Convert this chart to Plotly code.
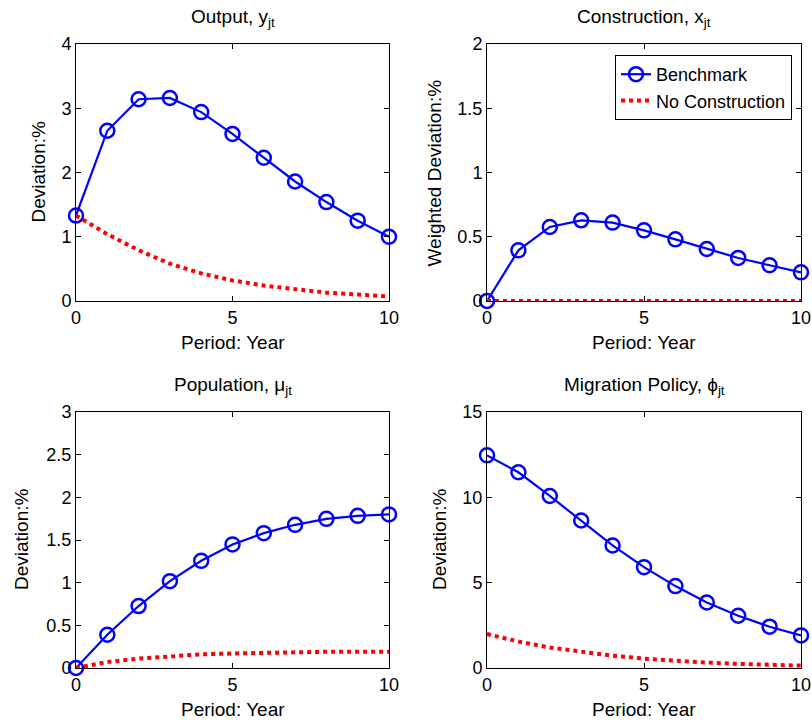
import plotly.graph_objects as go

periods = list(range(11))

output_bench = [1.33, 2.65, 3.14, 3.16, 2.94, 2.60, 2.23, 1.86, 1.54, 1.25, 1.00]
output_nocons = [1.33, 1.04, 0.79, 0.58, 0.43, 0.32, 0.24, 0.18, 0.13, 0.10, 0.07]

constr_bench = [0.0, 0.394, 0.576, 0.628, 0.61, 0.55, 0.48, 0.405, 0.335, 0.278, 0.223]
constr_nocons = [0.0] * 11

pop_bench = [0.0, 0.39, 0.726, 1.018, 1.256, 1.448, 1.58, 1.678, 1.748, 1.783, 1.80]
pop_nocons = [0.0, 0.07, 0.11, 0.14, 0.16, 0.17, 0.18, 0.185, 0.19, 0.19, 0.19]

mig_bench = [12.46, 11.47, 10.08, 8.64, 7.18, 5.91, 4.80, 3.84, 3.06, 2.42, 1.91]
mig_nocons = [1.99, 1.55, 1.20, 0.95, 0.72, 0.55, 0.42, 0.32, 0.24, 0.18, 0.14]

titles = ["Output, y<sub>jt</sub>", "Construction, x<sub>jt</sub>",
          "Population, \u03bc<sub>jt</sub>", "Migration Policy, \u03d5<sub>jt</sub>"]
ylabels = ["Deviation:%", "Weighted Deviation:%", "Deviation:%", "Deviation:%"]
yranges = [[0, 4], [0, 2], [0, 3], [0, 15]]
ydticks = [1, 0.5, 0.5, 5]
xlabel = "Period: Year"

W, H = 812, 723
xpix = [[76, 389], [487, 801]]
ypix = [[44, 301], [412, 668]]
xdoms = [[a / W, b / W] for a, b in xpix]
ydoms = [[1 - b / H, 1 - a / H] for a, b in ypix]
ytitle_x = [[38, 434], [21, 439]]

FONT = "Liberation Sans, Arial, sans-serif"
BLUE = "#0000FF"
RED = "#FF0000"
LBL = 19

fig = go.Figure()
bench = [output_bench, constr_bench, pop_bench, mig_bench]
nocons = [output_nocons, constr_nocons, pop_nocons, mig_nocons]

layout = dict(width=W, height=H, margin=dict(l=0, r=0, t=0, b=0, autoexpand=False),
              plot_bgcolor="white", paper_bgcolor="white",
              font=dict(family=FONT, size=LBL, color="black"))
annotations = []
for i in range(4):
    r, c = divmod(i, 2)
    xa = "x" if i == 0 else f"x{i+1}"
    ya = "y" if i == 0 else f"y{i+1}"
    fig.add_trace(go.Scatter(x=periods, y=bench[i], mode="lines+markers",
                             name="Benchmark", showlegend=(i == 1),
                             line=dict(color=BLUE, width=2.2),
                             marker=dict(symbol="circle-open", size=14, color=BLUE,
                                         line=dict(width=2.5, color=BLUE)),
                             xaxis=xa, yaxis=ya, cliponaxis=False))
    fig.add_trace(go.Scatter(x=periods, y=nocons[i], mode="lines",
                             name="No Construction", showlegend=(i == 1),
                             line=dict(color=RED, width=4, dash="4px,4px"),
                             xaxis=xa, yaxis=ya, cliponaxis=False))
    axkey = "xaxis" if i == 0 else f"xaxis{i+1}"
    aykey = "yaxis" if i == 0 else f"yaxis{i+1}"
    layout[axkey] = dict(domain=xdoms[c], anchor=ya, range=[0, 10], tickmode="linear",
                         tick0=0, dtick=5, ticks="inside", ticklen=5, tickcolor="black",
                         showline=True, linecolor="black", linewidth=1, mirror="ticks",
                         showgrid=False, zeroline=False, automargin=False,
                         tickfont=dict(size=18))
    layout[aykey] = dict(domain=ydoms[r], anchor=xa, range=yranges[i], tickmode="linear",
                         tick0=0, dtick=ydticks[i], ticks="inside", ticklen=5, tickcolor="black",
                         showline=True, linecolor="black", linewidth=1, mirror="ticks",
                         showgrid=False, zeroline=False, automargin=False,
                         tickfont=dict(size=18))
    xc = (xpix[c][0] + xpix[c][1]) / 2
    # subplot title
    annotations.append(dict(text=titles[i], x=xc / W, y=1 - (ypix[r][0] - 12) / H,
                            xref="paper", yref="paper", xanchor="center", yanchor="bottom",
                            showarrow=False, font=dict(size=LBL)))
    # x axis title
    annotations.append(dict(text=xlabel, x=xc / W, y=1 - (ypix[r][1] + 41) / H,
                            xref="paper", yref="paper", xanchor="center", yanchor="middle",
                            showarrow=False, font=dict(size=LBL)))
    # y axis title
    yc = (ypix[r][0] + ypix[r][1]) / 2
    annotations.append(dict(text=ylabels[i], x=ytitle_x[r][c] / W, y=1 - yc / H,
                            xref="paper", yref="paper", xanchor="center", yanchor="middle",
                            textangle=-90, showarrow=False, font=dict(size=LBL)))

layout["annotations"] = annotations
layout["legend"] = dict(x=792 / W, y=1 - 55 / H, xanchor="right", yanchor="top",
                        bordercolor="black", borderwidth=1, bgcolor="white",
                        font=dict(size=18), tracegroupgap=0)
fig.update_layout(**layout)
fig.write_html("out.html")
